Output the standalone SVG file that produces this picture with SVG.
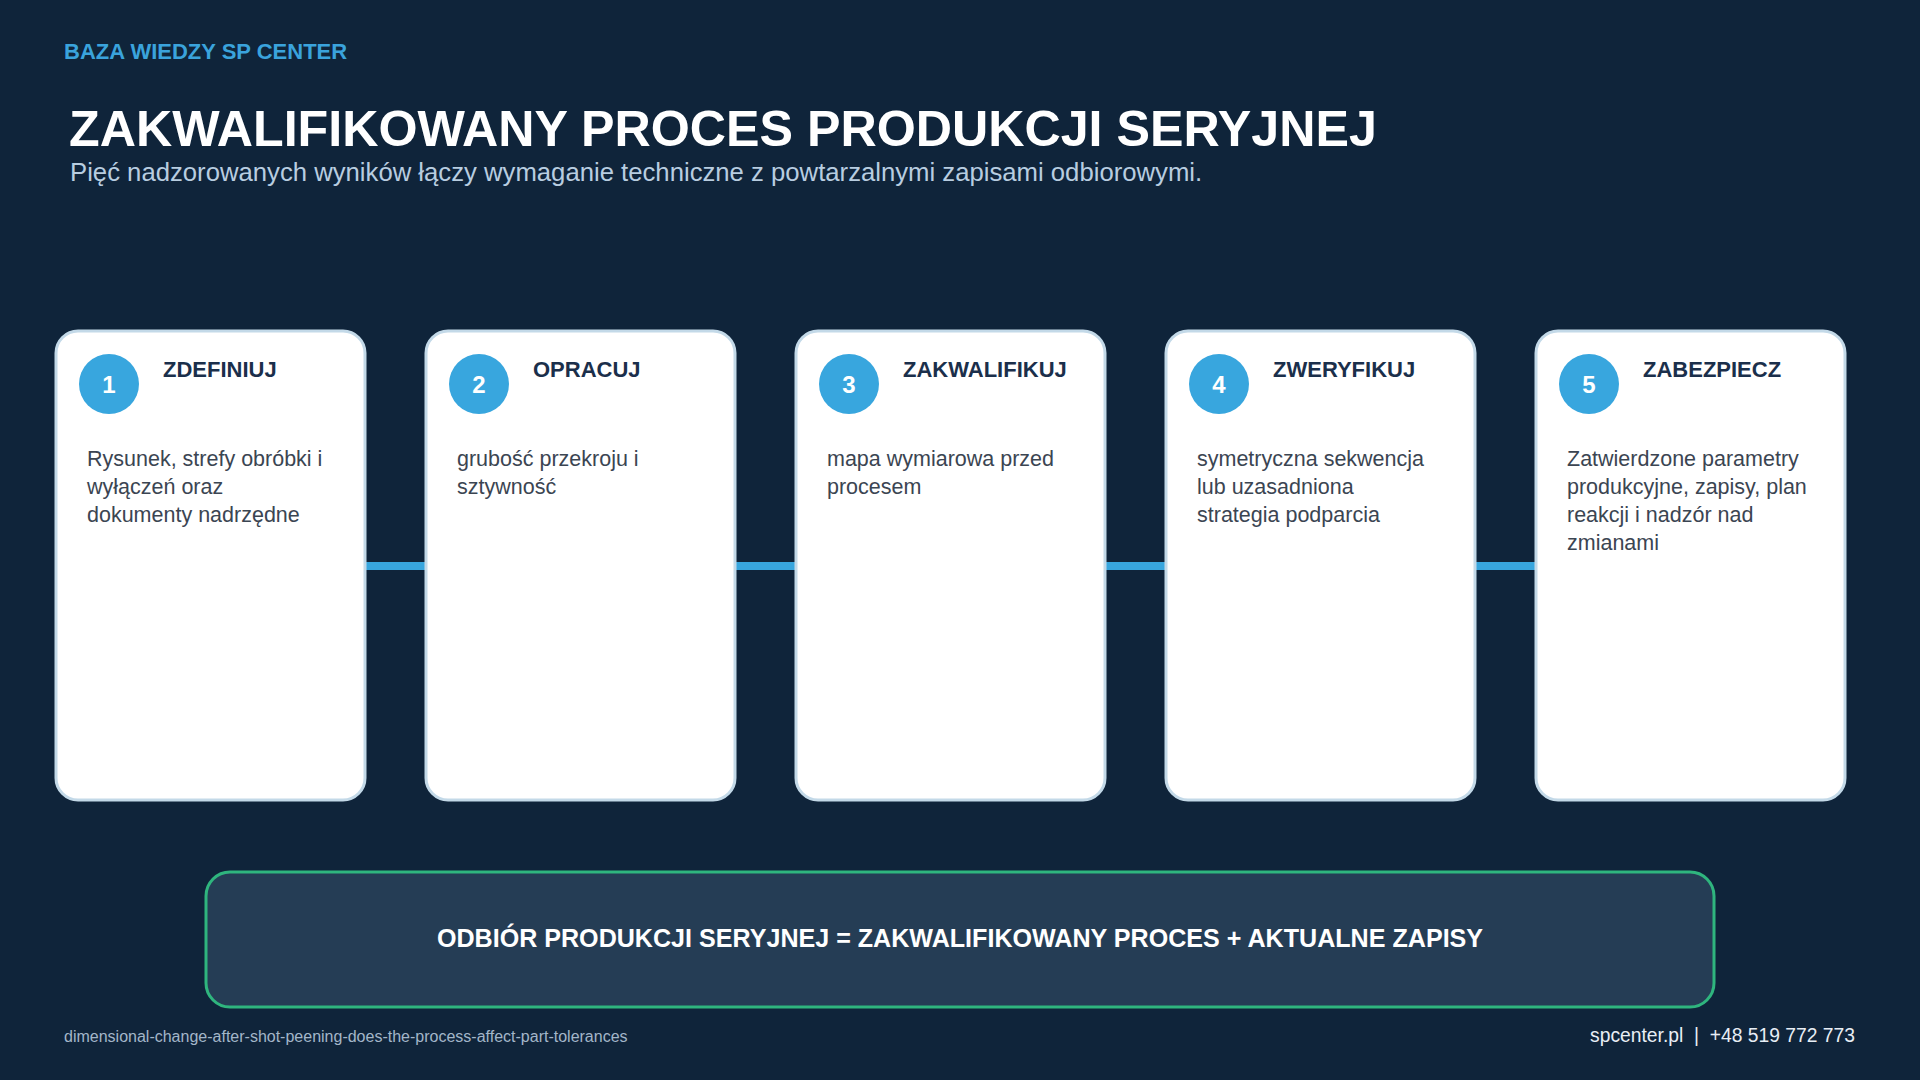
<svg xmlns="http://www.w3.org/2000/svg" width="1920" height="1080" viewBox="0 0 1920 1080">
<style>
.card{fill:#ffffff;stroke:#c3d9e8;stroke-width:3}
.num{fill:#38a6de}
.numt{font-family:"Liberation Sans",Arial,sans-serif;font-weight:bold;font-size:24px;fill:#ffffff;text-anchor:middle}
.ttl{font-family:"Liberation Sans",Arial,sans-serif;font-weight:bold;font-size:22px;fill:#1b2f4b}
.body{font-family:"Liberation Sans",Arial,sans-serif;font-size:21.5px;fill:#3b4552}
.conn{stroke:#38a6de;stroke-width:8}
</style>
<rect x="0" y="0" width="1920" height="1080" fill="#0f243a"/>
<text x="64" y="59" font-family="Liberation Sans,Arial,sans-serif" font-weight="bold" font-size="22" fill="#3aa3dc">BAZA WIEDZY SP CENTER</text>
<text x="69" y="146" font-family="Liberation Sans,Arial,sans-serif" font-weight="bold" font-size="50.2" fill="#ffffff">ZAKWALIFIKOWANY PROCES PRODUKCJI SERYJNEJ</text>
<text x="70" y="181" font-family="Liberation Sans,Arial,sans-serif" font-size="25.7" fill="#b8cde0">Pięć nadzorowanych wyników łączy wymaganie techniczne z powtarzalnymi zapisami odbiorowymi.</text>

<g id="connectors">
<line class="conn" x1="366" y1="566" x2="426" y2="566"/>
<line class="conn" x1="736" y1="566" x2="796" y2="566"/>
<line class="conn" x1="1106" y1="566" x2="1166" y2="566"/>
<line class="conn" x1="1476" y1="566" x2="1536" y2="566"/>
</g>

<g id="step1">
<rect class="card" x="56" y="331" width="309" height="469" rx="22"/>
<circle class="num" cx="109" cy="384" r="30"/>
<text class="numt" x="109" y="393">1</text>
<text class="ttl" x="163" y="377">ZDEFINIUJ</text>
<text class="body" x="87" y="466">Rysunek, strefy obróbki i</text>
<text class="body" x="87" y="494">wyłączeń oraz</text>
<text class="body" x="87" y="522">dokumenty nadrzędne</text>
</g>
<g id="step2">
<rect class="card" x="426" y="331" width="309" height="469" rx="22"/>
<circle class="num" cx="479" cy="384" r="30"/>
<text class="numt" x="479" y="393">2</text>
<text class="ttl" x="533" y="377">OPRACUJ</text>
<text class="body" x="457" y="466">grubość przekroju i</text>
<text class="body" x="457" y="494">sztywność</text>
</g>
<g id="step3">
<rect class="card" x="796" y="331" width="309" height="469" rx="22"/>
<circle class="num" cx="849" cy="384" r="30"/>
<text class="numt" x="849" y="393">3</text>
<text class="ttl" x="903" y="377">ZAKWALIFIKUJ</text>
<text class="body" x="827" y="466">mapa wymiarowa przed</text>
<text class="body" x="827" y="494">procesem</text>
</g>
<g id="step4">
<rect class="card" x="1166" y="331" width="309" height="469" rx="22"/>
<circle class="num" cx="1219" cy="384" r="30"/>
<text class="numt" x="1219" y="393">4</text>
<text class="ttl" x="1273" y="377">ZWERYFIKUJ</text>
<text class="body" x="1197" y="466">symetryczna sekwencja</text>
<text class="body" x="1197" y="494">lub uzasadniona</text>
<text class="body" x="1197" y="522">strategia podparcia</text>
</g>
<g id="step5">
<rect class="card" x="1536" y="331" width="309" height="469" rx="22"/>
<circle class="num" cx="1589" cy="384" r="30"/>
<text class="numt" x="1589" y="393">5</text>
<text class="ttl" x="1643" y="377">ZABEZPIECZ</text>
<text class="body" x="1567" y="466">Zatwierdzone parametry</text>
<text class="body" x="1567" y="494">produkcyjne, zapisy, plan</text>
<text class="body" x="1567" y="522">reakcji i nadzór nad</text>
<text class="body" x="1567" y="550">zmianami</text>
</g>

<g id="summary">
<rect x="206" y="872" width="1508" height="135" rx="24" fill="#253d55" stroke="#2fb57e" stroke-width="3"/>
<text x="960" y="947" text-anchor="middle" font-family="Liberation Sans,Arial,sans-serif" font-weight="bold" font-size="25.1" fill="#ffffff">ODBIÓR PRODUKCJI SERYJNEJ = ZAKWALIFIKOWANY PROCES + AKTUALNE ZAPISY</text>
</g>

<text x="64" y="1042" font-family="Liberation Sans,Arial,sans-serif" font-size="16" fill="#a3b6c9">dimensional-change-after-shot-peening-does-the-process-affect-part-tolerances</text>
<text x="1855" y="1042" text-anchor="end" font-family="Liberation Sans,Arial,sans-serif" font-size="19.3" fill="#e8eef5" xml:space="preserve">spcenter.pl  |  +48 519 772 773</text>
</svg>
